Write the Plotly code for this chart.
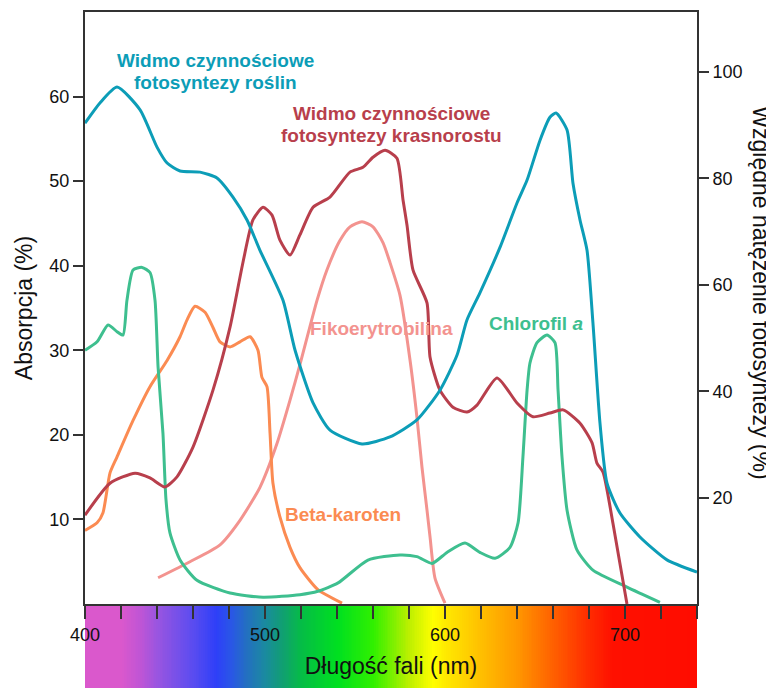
import numpy as np
import plotly.graph_objects as go

# ---------------- data ----------------
# Action spectrum of photosynthesis in plants (right axis, %)
plants_nm = [400, 408.3, 417.8, 430.6, 440, 445.6, 452.8, 463.9, 473.3, 482.2, 490, 497.2,
             510, 516.7, 526.7, 536.1, 553.9, 569.4, 584.4, 597.2, 606.7, 612.2, 619.4,
             630.6, 640, 645.6, 652.8, 658.3, 661.7, 667.8, 671.1, 675, 678.9, 682.2,
             686.1, 690, 697.2, 708.3, 723.3, 740]
plants_val = [90.4, 94.2, 97.2, 92.9, 85.9, 82.9, 81.4, 81.2, 80.1, 76.5, 72.2, 66.5,
              57.1, 47.7, 37.8, 32.7, 30.1, 31.4, 34.6, 40.2, 46.8, 53.4, 58.5,
              67.1, 75.4, 79.7, 87.2, 91.5, 92.3, 89.1, 79.1, 72.2, 66.5, 52.8,
              34.0, 22.7, 17.1, 12.6, 8.3, 6.0]

# Action spectrum of photosynthesis in red algae (right axis, %)
redalga_nm = [400, 413.9, 427.8, 436.1, 444.4, 451.1, 460, 471.1, 480.6, 487.8, 493.3, 498.9,
              503.9, 508.3, 513.9, 519.4, 526.7, 536.1, 547.2, 554.4, 560, 566.7, 573.3,
              576.7, 578.9, 582.2, 590, 591.7, 597.2, 604.4, 612.2, 617.8, 628.9, 640,
              648.9, 658.3, 665.6, 675, 681.7, 684.4, 687.8, 693.3, 701.1]
redalga_val = [16.7, 22.7, 24.6, 23.7, 22.0, 23.9, 29.5, 40.2, 52.1, 64.3, 72.2, 74.6,
               73.1, 68.4, 65.6, 69.4, 74.6, 76.5, 81.2, 82.1, 84.0, 85.3, 83.8,
               75.9, 71.2, 62.8, 56.6, 46.4, 40.2, 37.0, 36.1, 37.4, 42.5, 37.8,
               35.2, 35.9, 36.5, 34.0, 30.3, 26.5, 24.8, 15.2, 0.0]

# Chlorophyll a absorption (left axis, %)
chl_nm = [400, 406.7, 412.8, 417.8, 421.1, 423.3, 426.7, 431.7, 436.1, 438.9, 440.6, 443.3,
          445, 447.2, 452.8, 462.2, 480.6, 498.9, 519.4, 529.4, 540.6, 557.2, 575, 584.4,
          592.8, 601.1, 611.1, 619.4, 627.8, 636.1, 640.6, 643.3, 645.6, 647.2, 651.1,
          656.7, 661.1, 662.8, 665, 667.8, 673.3, 682.2, 701.1, 719.4]
chl_val = [30.0, 31.0, 33.0, 32.2, 31.8, 35.9, 39.5, 39.8, 39.2, 35.9, 28.0, 20.2,
           12.3, 8.4, 5.2, 2.8, 1.3, 0.8, 1.1, 1.5, 2.5, 5.2, 5.8, 5.6,
           4.8, 6.1, 7.2, 6.1, 5.4, 6.7, 9.6, 17.4, 25.3, 28.5, 30.9,
           31.8, 30.9, 25.3, 17.4, 11.1, 6.4, 4.0, 2.0, 0.2]

# Beta-carotene absorption (left axis, %)
beta_nm = [400, 406.7, 410, 413.9, 417.8, 426.7, 436.1, 445.6, 452.8, 456.7, 461.1, 466.7,
           471.1, 475, 480.6, 486.1, 491.7, 496.1, 498.3, 501.1, 502.8, 504.4, 508.3,
           513.9, 519.4, 529.4, 542.8]
beta_val = [8.7, 9.6, 10.8, 15.5, 17.4, 21.7, 25.7, 28.8, 31.6, 33.6, 35.2, 34.5,
            32.7, 31.0, 30.4, 31.0, 31.6, 30.0, 26.8, 25.7, 20.2, 14.3, 10.3,
            6.7, 4.3, 1.7, 0.1]

# Phycoerythrobilin absorption (left axis, %)
phyco_nm = [440.6, 458.3, 475, 486.1, 497.2, 506.7, 513.9, 519.4, 528.9, 534.4, 541.7,
            547.2, 553.9, 560, 565.6, 569.4, 575, 580.6, 584.4, 587.2, 590, 591.7,
            594.4, 600]
phyco_val = [3.1, 5.0, 7.0, 9.9, 13.8, 19.0, 24.1, 28.3, 35.9, 39.5, 43.0,
             44.6, 45.2, 44.6, 42.7, 40.4, 36.5, 28.8, 22.1, 16.2, 11.1, 7.9,
             3.1, 0.1]

# Visible spectrum colour stops (wavelength -> colour)
spectrum_nm = [400, 420, 430.6, 440, 460, 473, 480.6, 490, 500, 510, 520.4, 540.6, 560,
               580.6, 593.3, 601, 619.4, 639.8, 660, 680.6, 693, 740]
spectrum_colors = ["#da58cc", "#da58cc", "#c055d5", "#9a55e0", "#5a4cf0", "#2e3ff8",
                   "#2a55e8", "#2370c0", "#1a8aa0", "#10a070", "#05bd45", "#00e020",
                   "#30f000", "#c0f000", "#ffff00", "#ffe800", "#ffc000", "#ff9800",
                   "#ff6000", "#ff2a00", "#ff1000", "#ff0c00"]

x_tick_vals = [400, 420, 440, 460, 480, 500, 520, 540, 560, 580, 600, 620, 640, 660,
               680, 700, 720, 740]
x_tick_text = ["400", "", "", "", "", "500", "", "", "", "", "600", "", "", "", "",
               "700", "", ""]
left_ticks = [10, 20, 30, 40, 50, 60]
right_ticks = [20, 40, 60, 80, 100]

# ---------------- styling ----------------
TEAL = "#0c9db7"
RED = "#b83f4c"
GREEN = "#3ebf8f"
ORANGE = "#fb8b52"
PINK = "#f3938f"
AXIS = "#333333"
FONT = "Liberation Sans, Arial, sans-serif"
TITLE_SIZE = 23

X0, X1 = 400, 740
SPEC_FRAC = 84 / 676.0

fig = go.Figure()

# spectrum bar
grid = np.arange(X0, X1 + 1, 1)
cscale = [[(n - X0) / (X1 - X0), c] for n, c in zip(spectrum_nm, spectrum_colors)]
fig.add_trace(go.Heatmap(x=grid, y=[0, 1], z=[grid, grid], colorscale=cscale,
                         zmin=X0, zmax=X1, showscale=False, hoverinfo="skip",
                         xaxis="x", yaxis="y"))

line_w = 3
fig.add_trace(go.Scatter(x=phyco_nm, y=phyco_val, mode="lines", xaxis="x2", yaxis="y2",
                         line=dict(color=PINK, width=line_w, shape="spline", smoothing=0.6),
                         name="Fikoerytrobilina"))
fig.add_trace(go.Scatter(x=beta_nm, y=beta_val, mode="lines", xaxis="x2", yaxis="y2",
                         line=dict(color=ORANGE, width=line_w, shape="spline", smoothing=0.6),
                         name="Beta-karoten"))
fig.add_trace(go.Scatter(x=chl_nm, y=chl_val, mode="lines", xaxis="x2", yaxis="y2",
                         line=dict(color=GREEN, width=line_w, shape="spline", smoothing=0.6),
                         name="Chlorofil a"))
fig.add_trace(go.Scatter(x=redalga_nm, y=redalga_val, mode="lines", xaxis="x2", yaxis="y3",
                         line=dict(color=RED, width=line_w, shape="spline", smoothing=0.6),
                         name="krasnorost"))
fig.add_trace(go.Scatter(x=plants_nm, y=plants_val, mode="lines", xaxis="x2", yaxis="y3",
                         line=dict(color=TEAL, width=line_w, shape="spline", smoothing=0.6),
                         name="rośliny"))

lbl = dict(family=FONT, size=19)
annotations = [
    dict(x=472.5, y=64.3, text="<b>Widmo czynnościowe</b>", font=dict(lbl, color=TEAL)),
    dict(x=472.5, y=61.7, text="<b>fotosyntezy roślin</b>", font=dict(lbl, color=TEAL)),
    dict(x=570.4, y=58.0, text="<b>Widmo czynnościowe</b>", font=dict(lbl, color=RED)),
    dict(x=570.4, y=55.4, text="<b>fotosyntezy krasnorostu</b>", font=dict(lbl, color=RED)),
    dict(x=564.8, y=32.6, text="<b>Fikoerytrobilina</b>", font=dict(lbl, color=PINK)),
    dict(x=650.3, y=33.2, text="<b>Chlorofil <i>a</i></b>", font=dict(lbl, color=GREEN)),
    dict(x=543.3, y=10.6, text="<b>Beta-karoten</b>", font=dict(lbl, color=ORANGE)),
]
for a in annotations:
    a.update(xref="x2", yref="y2", showarrow=False, xanchor="center", yanchor="middle")
annotations.append(dict(x=1.105, y=0.585, xref="paper", yref="paper", showarrow=False,
                        text="Względne natężenie fotosyntezy (%)", textangle=90,
                        xanchor="center", yanchor="middle",
                        font=dict(family=FONT, size=TITLE_SIZE, color="#111")))

axis_common = dict(showline=True, linecolor=AXIS, linewidth=2, ticks="outside",
                   tickwidth=2, tickcolor=AXIS, showgrid=False, zeroline=False,
                   tickfont=dict(family=FONT, size=18, color="#111"))

# The page body adds an 8 px offset, so the figure is 8 px smaller than the window
fig.update_layout(
    width=766, height=680,
    margin=dict(l=77, r=77, t=4, b=0),
    paper_bgcolor="white", plot_bgcolor="white",
    showlegend=False,
    font=dict(family=FONT, color="#111"),
    xaxis=dict(domain=[0, 1], range=[X0, X1], anchor="y", visible=False),
    yaxis=dict(domain=[0, SPEC_FRAC], anchor="x", visible=False, range=[0, 1]),
    xaxis2=dict(axis_common, domain=[0, 1], range=[X0, X1], anchor="y2", mirror=True,
                ticklen=13, tickvals=x_tick_vals, ticktext=x_tick_text,
                title=dict(text="Długość fali (nm)", standoff=14,
                           font=dict(family=FONT, size=TITLE_SIZE, color="#111"))),
    yaxis2=dict(axis_common, domain=[SPEC_FRAC, 1], range=[0, 70], anchor="x2",
                ticklen=10, tickvals=left_ticks,
                title=dict(text="Absorpcja (%)", standoff=10,
                           font=dict(family=FONT, size=TITLE_SIZE, color="#111"))),
    yaxis3=dict(axis_common, overlaying="y2", side="right", range=[0, 111.3], anchor="x2",
                ticklen=10, tickvals=right_ticks),
    annotations=annotations,
)

fig.write_html("out.html")
